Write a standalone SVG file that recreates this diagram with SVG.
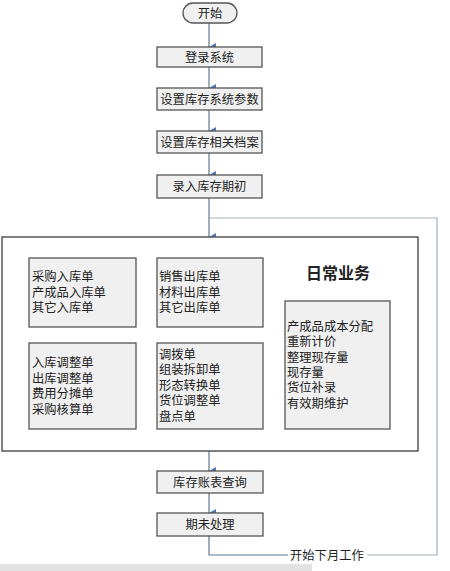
<svg xmlns="http://www.w3.org/2000/svg" width="450" height="571" viewBox="0 0 450 571">
<style>
text{font-family:"Noto Sans CJK SC","Noto Sans",sans-serif;font-size:12.3px;fill:#222}
.box{fill:#f0f0f0;stroke:#555;stroke-width:1.3}
.c{text-anchor:middle}
.ln{fill:none;stroke:#5f7890;stroke-width:1.2}
.lt{fill:none;stroke:#9fb0c0;stroke-width:1.2}
</style>
<defs>
<marker id="ah" markerWidth="8" markerHeight="8" refX="4" refY="7" orient="auto" markerUnits="userSpaceOnUse">
<path d="M0,0 L8,0 L4,7 Z" fill="#4a78b8"/>
</marker>
</defs>
<rect x="0" y="0" width="450" height="571" fill="#fff"/>
<rect x="0" y="564" width="312" height="7" fill="#e2e2e2"/>

<g id="connectors">
<line class="ln" x1="209" y1="23" x2="209" y2="47" marker-end="url(#ah)"/>
<line class="ln" x1="209" y1="67" x2="209" y2="88" marker-end="url(#ah)"/>
<line class="ln" x1="209" y1="110" x2="209" y2="131" marker-end="url(#ah)"/>
<line class="ln" x1="209" y1="153" x2="209" y2="175" marker-end="url(#ah)"/>
<line class="ln" x1="209" y1="198" x2="209" y2="237" marker-end="url(#ah)"/>
<line class="ln" x1="209" y1="451" x2="209" y2="471" marker-end="url(#ah)"/>
<line class="ln" x1="209" y1="493" x2="209" y2="513" marker-end="url(#ah)"/>
<polyline class="ln" points="209,536 209,555 288,555"/>
<polyline class="lt" points="367,555 437,555 437,218 209,218"/>
<text x="290" y="559.5">开始下月工作</text>
</g>

<g id="start">
<rect x="183" y="3" width="54" height="20" rx="10" fill="#f0f0f0" stroke="#555" stroke-width="1.3"/>
<text class="c" x="210" y="17.5">开始</text>
</g>
<g id="login">
<rect class="box" x="157" y="47" width="105" height="20"/>
<text class="c" x="209.5" y="61.5">登录系统</text>
</g>
<g id="params">
<rect class="box" x="157" y="88" width="105" height="22"/>
<text class="c" x="209.5" y="103.5">设置库存系统参数</text>
</g>
<g id="archives">
<rect class="box" x="157" y="131" width="105" height="22"/>
<text class="c" x="209.5" y="146.5">设置库存相关档案</text>
</g>
<g id="opening">
<rect class="box" x="157" y="175" width="105" height="23"/>
<text class="c" x="209.5" y="191">录入库存期初</text>
</g>

<g id="daily">
<rect x="2" y="237" width="416" height="214" fill="#fff" stroke="#555" stroke-width="1.5"/>
<text x="338" y="279" class="c" style="font-size:16px;font-weight:bold">日常业务</text>
</g>
<g id="inbound">
<rect class="box" x="29" y="258" width="107" height="69"/>
<text x="32" y="281">采购入库单</text>
<text x="32" y="296.5">产成品入库单</text>
<text x="32" y="312">其它入库单</text>
</g>
<g id="outbound">
<rect class="box" x="157" y="258" width="106" height="69"/>
<text x="159" y="281">销售出库单</text>
<text x="159" y="296.5">材料出库单</text>
<text x="159" y="312">其它出库单</text>
</g>
<g id="adjust">
<rect class="box" x="29" y="343" width="107" height="86"/>
<text x="32" y="367">入库调整单</text>
<text x="32" y="382.5">出库调整单</text>
<text x="32" y="398">费用分摊单</text>
<text x="32" y="413.5">采购核算单</text>
</g>
<g id="transfer">
<rect class="box" x="157" y="343" width="106" height="86"/>
<text x="159" y="359">调拨单</text>
<text x="159" y="374">组装拆卸单</text>
<text x="159" y="389.5">形态转换单</text>
<text x="159" y="405">货位调整单</text>
<text x="159" y="420.5">盘点单</text>
</g>
<g id="cost">
<rect class="box" x="285" y="301" width="105" height="128"/>
<text x="287" y="331">产成品成本分配</text>
<text x="287" y="346">重新计价</text>
<text x="287" y="361.5">整理现存量</text>
<text x="287" y="376.5">现存量</text>
<text x="287" y="392">货位补录</text>
<text x="287" y="407.5">有效期维护</text>
</g>

<g id="query">
<rect class="box" x="157" y="471" width="106" height="22"/>
<text class="c" x="210" y="486.5">库存账表查询</text>
</g>
<g id="closing">
<rect class="box" x="157" y="513" width="106" height="23"/>
<text class="c" x="210" y="529">期未处理</text>
</g>
</svg>
